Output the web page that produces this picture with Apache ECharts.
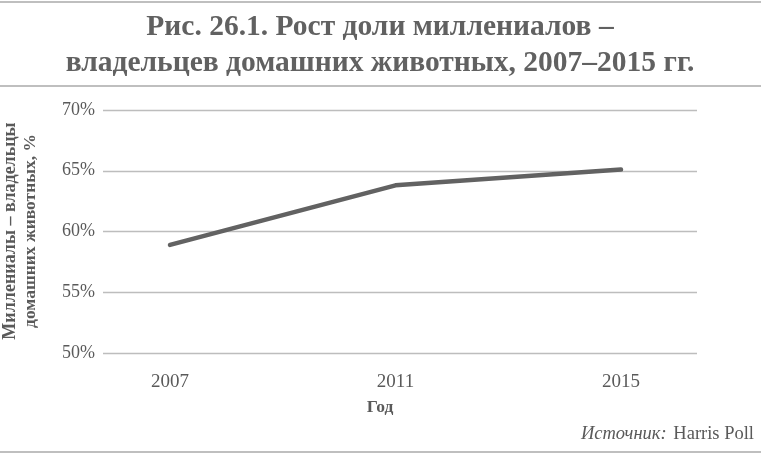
<!DOCTYPE html>
<html><head><meta charset="utf-8">
<script src="https://cdn.jsdelivr.net/npm/echarts@6/dist/echarts.min.js"></script>
<style>html,body{margin:0;padding:0;background:#fff;}#c{width:761px;height:455px;}</style>
</head><body><div id="c"></div>
<script>
const years = ['2007', '2011', '2015'];
const shares = [58.9, 63.8, 65.1];
const yTicks = [50, 55, 60, 65, 70];

const titleLine1 = 'Рис. 26.1. Рост доли миллениалов –';
const titleLine2 = 'владельцев домашних животных, 2007–2015 гг.';
const yName1 = 'Миллениалы – владельцы';
const yName2 = 'домашних животных, %';
const xName = 'Год';

const serif = '"Liberation Serif", "DejaVu Serif", serif';
const grey = '#5a5a5a';
const chart = echarts.init(document.getElementById('c'), null, {renderer: 'canvas'});
chart.setOption({
  animation: false,
  backgroundColor: '#fff',
  grid: [
    {left: 103, right: 64, top: 110, bottom: 102},
    {left: 170, right: 140, top: 110, bottom: 102}
  ],
  xAxis: [
    {gridIndex: 0, type: 'category', data: years, show: false},
    {gridIndex: 1, type: 'category', data: years, boundaryGap: false,
     axisLine: {show: false}, axisTick: {show: false},
     axisLabel: {color: grey, fontFamily: serif, fontSize: 19, margin: 20}}
  ],
  yAxis: [
    {gridIndex: 0, type: 'value', min: yTicks[0], max: yTicks[yTicks.length - 1], interval: 5,
     axisLine: {show: false}, axisTick: {show: false},
     axisLabel: {color: grey, fontFamily: serif, fontSize: 18, margin: 8, formatter: v => v + '%'},
     splitLine: {lineStyle: {color: '#bdbdbd', width: 1.3}}},
    {gridIndex: 1, type: 'value', min: yTicks[0], max: yTicks[yTicks.length - 1], interval: 5, show: false}
  ],
  series: [{
    type: 'line', xAxisIndex: 1, yAxisIndex: 1, data: shares,
    symbol: 'none', lineStyle: {color: '#626262', width: 4.5, cap: 'round', join: 'round'}
  }],
  graphic: [
    {type: 'rect', shape: {x: 0, y: 1, width: 761, height: 2}, style: {fill: '#bfbfbf'}},
    {type: 'rect', shape: {x: 0, y: 85, width: 761, height: 2}, style: {fill: '#bfbfbf'}},
    {type: 'rect', shape: {x: 0, y: 451, width: 761, height: 2}, style: {fill: '#bfbfbf'}},
    {type: 'text', x: 380, y: 27, style: {text: titleLine1, fill: '#616161', fontFamily: serif, fontWeight: 'bold', fontSize: 29.5, textAlign: 'center', textVerticalAlign: 'middle'}},
    {type: 'text', x: 380, y: 63, style: {text: titleLine2, fill: '#616161', fontFamily: serif, fontWeight: 'bold', fontSize: 29.5, textAlign: 'center', textVerticalAlign: 'middle'}},
    {type: 'text', x: 10, y: 231, rotation: Math.PI / 2, style: {text: yName1, fill: grey, fontFamily: serif, fontWeight: 'bold', fontSize: 18, textAlign: 'center', textVerticalAlign: 'middle'}},
    {type: 'text', x: 30, y: 231, rotation: Math.PI / 2, style: {text: yName2, fill: grey, fontFamily: serif, fontWeight: 'bold', fontSize: 17.5, textAlign: 'center', textVerticalAlign: 'middle'}},
    {type: 'text', x: 380, y: 407, style: {text: xName, fill: grey, fontFamily: serif, fontWeight: 'bold', fontSize: 17.5, textAlign: 'center', textVerticalAlign: 'middle'}},
    {type: 'text', x: 754, y: 434, style: {
      text: '{i|Источник:}  {r|Harris Poll}', textAlign: 'right', textVerticalAlign: 'middle', fill: grey,
      rich: {i: {fontFamily: serif, fontStyle: 'italic', fontSize: 18.5, fill: grey},
             r: {fontFamily: serif, fontSize: 18.5, fill: grey}}}}
  ]
});
</script></body></html>
